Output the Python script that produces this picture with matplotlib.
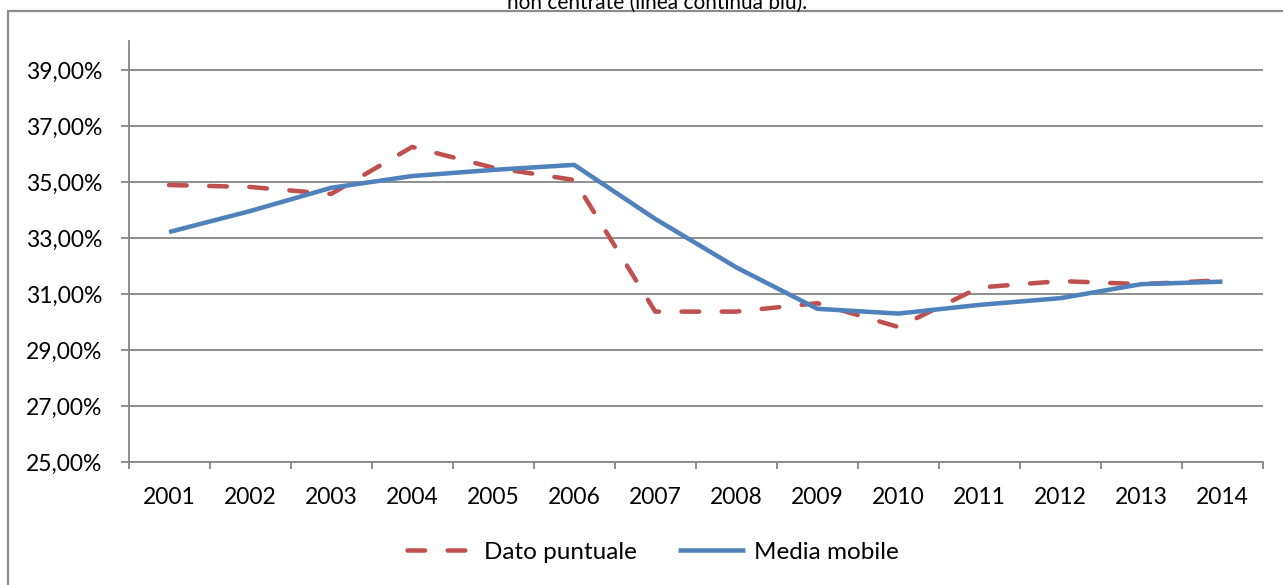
import matplotlib
matplotlib.use("Agg")
import matplotlib.pyplot as plt
from matplotlib.patches import Rectangle
from matplotlib.ticker import FixedLocator, FuncFormatter

years = ["2001", "2002", "2003", "2004", "2005", "2006", "2007",
         "2008", "2009", "2010", "2011", "2012", "2013", "2014"]
dato_puntuale = [34.89, 34.82, 34.57, 36.25, 35.51, 35.07, 30.37,
                 30.37, 30.67, 29.82, 31.23, 31.46, 31.35, 31.49]
media_mobile = [33.21, 33.96, 34.79, 35.21, 35.43, 35.61, 33.68,
                31.95, 30.47, 30.30, 30.61, 30.85, 31.35, 31.44]
y_ticks = [25, 27, 29, 31, 33, 35, 37, 39]
title_text = "non centrate (linea continua blu)."

plt.rcParams['font.family'] = ['Lato', 'DejaVu Sans']

W, H = 1283, 585
fig = plt.figure(figsize=(W / 100, H / 100), dpi=100)

# outer chart border (partly cut off at right/bottom)
fig.patches.append(Rectangle((7.5 / W, -0.05), 1.2, (H - 11) / H + 0.05,
                             transform=fig.transFigure, fill=False,
                             edgecolor="#8c8c8c", linewidth=1.6, zorder=0))

# title, clipped at top as in the source
fig.text(657 / W, 1 - 8.5 / H, title_text, ha="center", va="baseline",
         fontsize=15, color="#000000")

ax_left, ax_right = 128.5 / W, 1263 / W
ax_bottom, ax_top = (H - 462) / H, (H - 40.5) / H
ax = fig.add_axes([ax_left, ax_bottom, ax_right - ax_left, ax_top - ax_bottom])

x = list(range(len(years)))
grid_c = "#868686"

ax.set_xlim(-0.5, len(years) - 0.5)
ax.set_ylim(25, 40.05)

for v in y_ticks:
    ax.axhline(v, color=grid_c, linewidth=1.3, zorder=1)

l1, = ax.plot(x, dato_puntuale, color="#C0504D", linewidth=3.25,
              dash_capstyle="round", solid_joinstyle="round", zorder=3,
              label="Dato puntuale")
l1.set_dashes((3.9, 5.0))
l2, = ax.plot(x, media_mobile, color="#4F81BD", linewidth=3.25,
              solid_capstyle="butt", solid_joinstyle="round", zorder=4,
              label="Media mobile")

for s in ["top", "right"]:
    ax.spines[s].set_visible(False)
for s in ["left", "bottom"]:
    ax.spines[s].set_color(grid_c)
    ax.spines[s].set_linewidth(1.3)

ax.yaxis.set_major_locator(FixedLocator(y_ticks))
ax.yaxis.set_major_formatter(FuncFormatter(lambda v, p: f"{v:.2f}%".replace(".", ",")))
ax.tick_params(axis="y", which="major", length=6, width=1.3, color=grid_c,
               pad=13, labelsize=16.5, labelcolor="#000000")

ax.xaxis.set_major_locator(FixedLocator(x))
ax.set_xticklabels(years)
ax.xaxis.set_minor_locator(FixedLocator([i - 0.5 for i in range(len(years) + 1)]))
ax.tick_params(axis="x", which="major", length=0, pad=18, labelsize=16.5,
               labelcolor="#000000")
ax.tick_params(axis="x", which="minor", length=5, width=1.3, color=grid_c)

leg = fig.legend(handles=[l1, l2], loc="center", bbox_to_anchor=(653 / W, 33 / H),
                 ncol=2, frameon=False, fontsize=17.5, handlelength=2.75,
                 handletextpad=0.4, columnspacing=1.7)

fig.savefig("out.png", dpi=100)
